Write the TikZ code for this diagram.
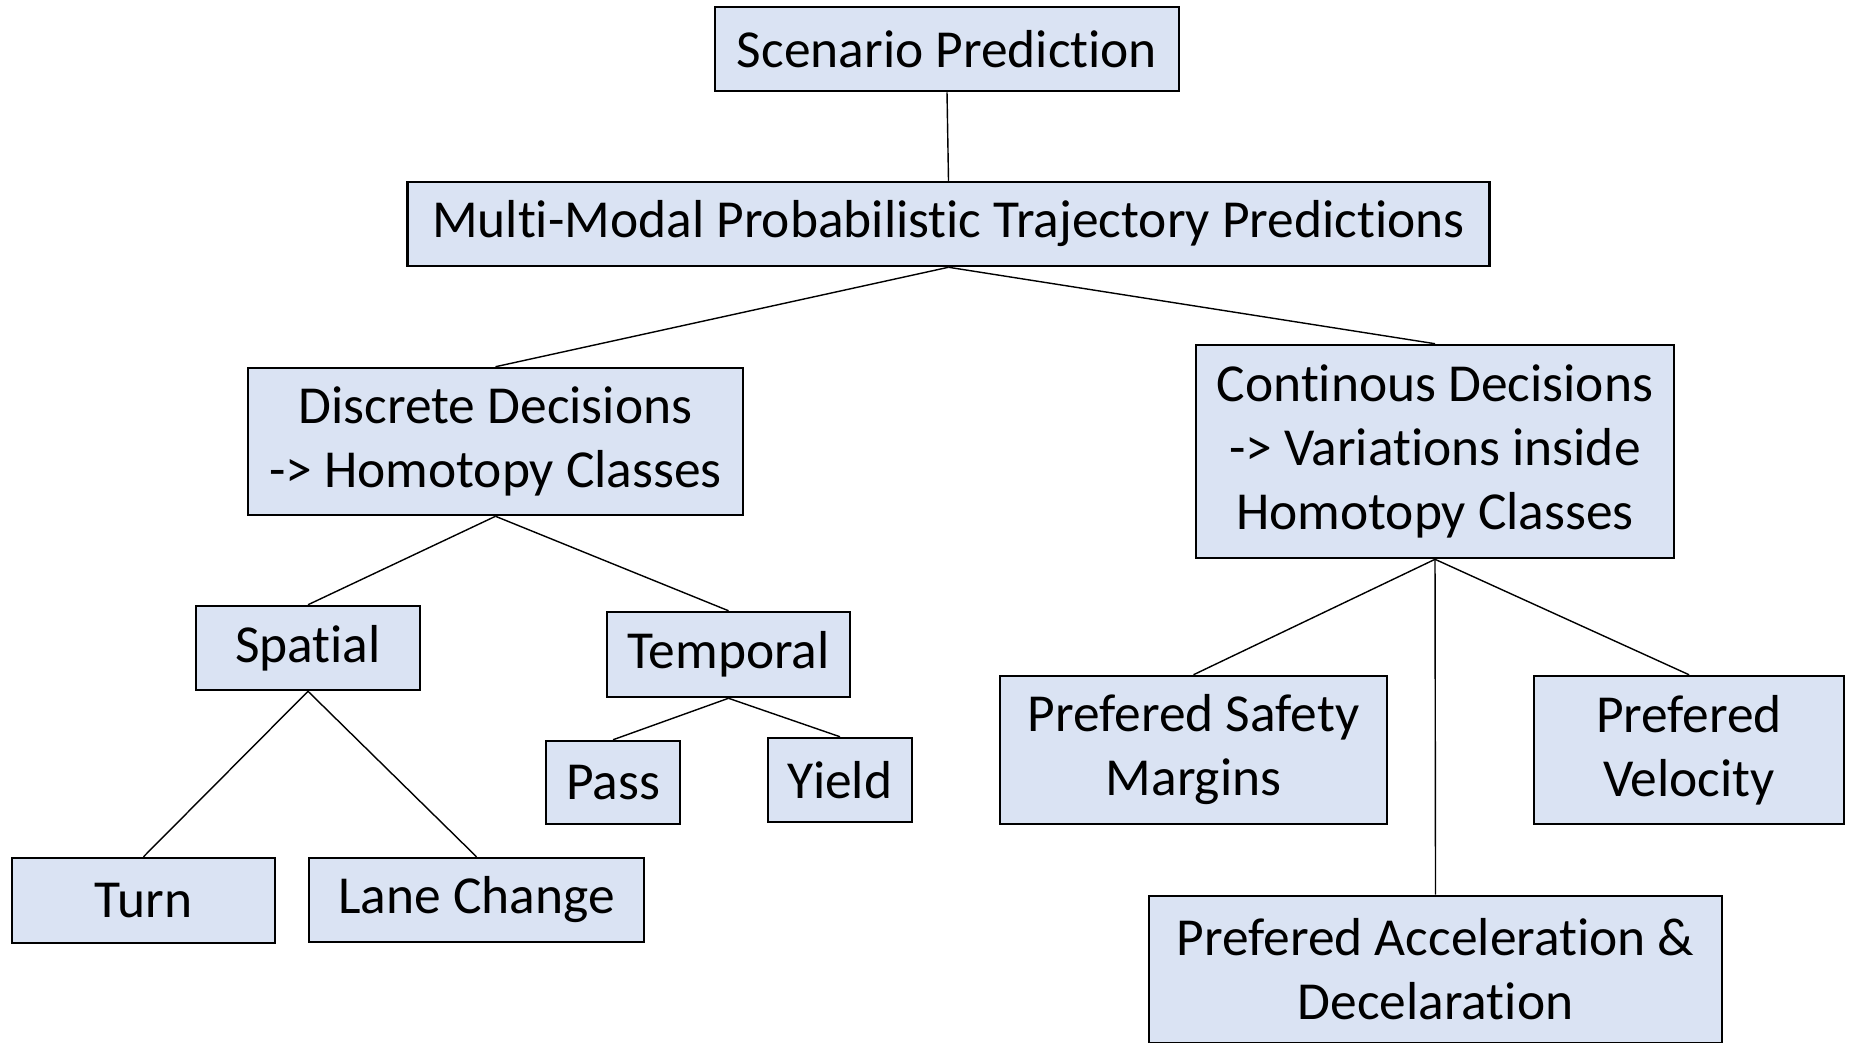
\documentclass[tikz,border=0pt]{standalone}
\usepackage{fontspec}
\setmainfont{Carlito}[Ligatures=NoCommon]
\definecolor{boxblue}{HTML}{DAE3F3}

\tikzset{
	box/.style={draw=black, line width=0.7pt, fill=boxblue, inner sep=0pt, align=center,
		font=\fontsize{15.2}{18.2}\selectfont},
	link/.style={line width=0.4pt}
}

\begin{document}
\begin{tikzpicture}[x=0.01cm, y=-0.01cm]
		\useasboundingbox (0,0) rectangle (1849,1042);
		\clip (0,0) rectangle (1849,1042);
		% top of the tree
		\node[box, minimum width=4.64cm, minimum height=0.84cm] (scen) at (947,49) {Scenario Prediction};
		\node[box, minimum width=10.81cm, minimum height=0.84cm] (mm) at (948.5,224) {Multi-Modal Probabilistic Trajectory Predictions};
		\node[box, minimum width=4.95cm, minimum height=1.47cm] (disc) at (495.5,441.5) {Discrete Decisions\\-> Homotopy Classes};
		\node[box, minimum width=4.78cm, minimum height=2.13cm] (cont) at (1435,451.5) {Continous Decisions\\-> Variations inside\\Homotopy Classes};
		% discrete branch
		\node[box, minimum width=2.24cm, minimum height=0.84cm] (spat) at (308,648) {Spatial};
		\node[box, minimum width=2.43cm, minimum height=0.85cm] (temp) at (728.5,654.5) {Temporal};
		\node[box, minimum width=1.34cm, minimum height=0.83cm] (pass) at (613,782.5) {Pass};
		\node[box, minimum width=1.44cm, minimum height=0.84cm] (yield) at (840,780) {Yield};
		\node[box, minimum width=2.63cm, minimum height=0.85cm] (turn) at (143.5,900.5) {Turn};
		\node[box, minimum width=3.35cm, minimum height=0.84cm] (lane) at (476.5,900) {Lane Change};
		% continous branch
		\node[box, minimum width=3.87cm, minimum height=1.48cm] (safe) at (1193.5,750) {Prefered Safety\\Margins};
		\node[box, minimum width=3.10cm, minimum height=1.48cm] (velo) at (1689,750) {Prefered\\Velocity};
		\node[box, minimum width=5.73cm, minimum height=1.47cm] (accel) at (1435.5,969.5) {Prefered Acceleration \&\\Decelaration};
		\foreach \a / \b in {scen/mm,mm/disc,mm/cont,disc/spat,disc/temp,spat/turn,spat/lane,temp/pass,temp/yield,cont/safe,cont/velo,cont/accel} { \draw[link] (\a.south) -- (\b.north);}
	\end{tikzpicture}
\end{document}
